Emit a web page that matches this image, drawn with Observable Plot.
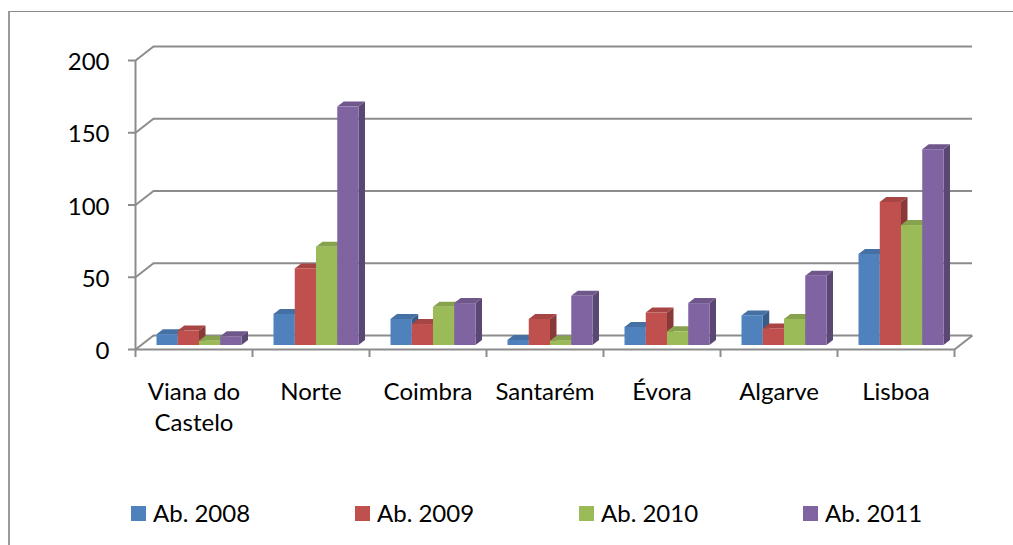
<!DOCTYPE html>
<html>
<head>
<meta charset="utf-8">
<script src="https://cdn.jsdelivr.net/npm/d3@7"></script>
<script src="https://cdn.jsdelivr.net/npm/@observablehq/plot@0.6"></script>
<style>
  html, body { margin: 0; padding: 0; background: #fff; overflow: hidden; }
  #wrap { position: relative; width: 1013px; height: 545px; font-family: Lato, "Open Sans", sans-serif; }
  #frame { position: absolute; left: 8px; top: 11px; width: 1020px; height: 560px;
           border-left: 2px solid #9a9a9a; border-top: 1.5px solid #8a8a8a; pointer-events: none; }
  #legend { position: absolute; left: 131px; top: 499px; display: flex; }
  .item { width: 224px; display: flex; align-items: center; height: 28px; }
  .sw { width: 15px; height: 15px; margin-right: 7px; flex: none; }
  .lab { font-size: 24px; color: #000; line-height: 28px; }
</style>
</head>
<body>
<div id="wrap"></div>
<script>
// ---- data ----
const categories = ["Viana do Castelo", "Norte", "Coimbra", "Santarém", "Évora", "Algarve", "Lisboa"];
const seriesNames = ["Ab. 2008", "Ab. 2009", "Ab. 2010", "Ab. 2011"];
const ab2008 = [7.5, 21.5, 18, 3.5, 12.5, 20.5, 63];
const ab2009 = [10, 53, 14.5, 18, 22.5, 11.5, 99];
const ab2010 = [3, 68, 26.5, 3, 9.5, 18, 83];
const ab2011 = [6, 165, 29, 34, 29, 48, 135.5];
const yTicks = [0, 50, 100, 150, 200];
const colors = ["#4F81BD", "#C0504D", "#9BBB59", "#8064A2"];

// ---- layout ----
const W = 1013, H = 480;
const mL = 135, mR = 59, mT = 60, yZeroPx = 349;
const pxX = (W - mL - mR) / categories.length;   // px per category
const pxY = (yZeroPx - mT) / 200;                 // px per unit
const depthX = 18, depthY = 14;                   // back wall offset, px
const dxU = depthX / pxX, dyU = depthY / pxY;     // in data units
const barW = 21.25 / pxX;                         // bar width in category units
const groupStart = (1 - 4 * barW) / 2;
const sideX = 6.5, sideY = 5;                     // bar depth, px

const allSeries = [ab2008, ab2009, ab2010, ab2011];
const bars = [];
categories.forEach((c, i) => {
  allSeries.forEach((arr, j) => {
    const x1 = i + groupStart + j * barW;
    bars.push({category: c, series: seriesNames[j], value: arr[i], x1, x2: x1 + barW});
  });
});

const gridColor = "#8c8c8c";

const chart = Plot.plot({
  width: W, height: H,
  marginLeft: mL, marginRight: mR, marginTop: mT, marginBottom: H - yZeroPx,
  style: {fontFamily: "Lato, 'Open Sans', sans-serif", fontSize: "24px", background: "transparent", color: "#000"},
  x: {type: "linear", domain: [0, categories.length], axis: null},
  y: {domain: [0, 200], axis: null},
  color: {domain: seriesNames, range: colors},
  marks: [
    // back wall gridlines
    Plot.ruleY(yTicks, {x1: 0, x2: categories.length, dx: depthX, dy: -depthY, stroke: gridColor, strokeWidth: 2.2}),
    // left-wall connectors
    Plot.link(yTicks, {x1: 0, y1: d => d, x2: dxU, y2: d => d + dyU, stroke: gridColor, strokeWidth: 2}),
    // floor right edge
    Plot.link([0], {x1: categories.length, y1: 0, x2: categories.length + dxU, y2: dyU, stroke: gridColor, strokeWidth: 2}),
    // bars (front faces; 3D faces added afterwards)
    Plot.rect(bars, {x1: "x1", x2: "x2", y1: 0, y2: "value", fill: "series", dx: 5.5, dy: -4, className: "bars3d"}),
    // front axes
    Plot.ruleY([0], {x1: 0, x2: categories.length, stroke: gridColor, strokeWidth: 2}),
    Plot.ruleX([0], {y1: 0, y2: 200, stroke: gridColor, strokeWidth: 2}),
    // y ticks
    Plot.ruleY(yTicks, {x1: -7 / pxX, x2: 0, stroke: gridColor, strokeWidth: 2}),
    Plot.text(yTicks, {x: 0, y: d => d, text: d => String(d), textAnchor: "end", dx: -26, dy: 2, fontSize: 24, fill: "#000"}),
    // x ticks
    Plot.ruleX(d3.range(categories.length + 1), {y1: 0, y2: -8 / pxY, stroke: gridColor, strokeWidth: 2}),
    // category labels
    Plot.text(categories, {x: (d, i) => i + 0.5, y: 0, text: d => d, lineWidth: 5.3, lineHeight: 1.3,
      lineAnchor: "top", dy: 28, fontSize: 24, fill: "#000", textAnchor: "middle"})
  ]
});

// add 3D top and side faces to each bar
d3.select(chart).selectAll("g.bars3d rect").each(function() {
  const r = d3.select(this);
  const x = +r.attr("x"), y = +r.attr("y"), w = +r.attr("width"), h = +r.attr("height");
  const fill = r.attr("fill");
  const c = d3.color(fill);
  const parent = this.parentNode;
  const side = document.createElementNS("http://www.w3.org/2000/svg", "polygon");
  side.setAttribute("points", [[x + w, y], [x + w + sideX, y - sideY], [x + w + sideX, y + h - sideY], [x + w, y + h]].map(p => p.join(",")).join(" "));
  side.setAttribute("fill", c.darker(0.95).formatHex());
  const top = document.createElementNS("http://www.w3.org/2000/svg", "polygon");
  top.setAttribute("points", [[x, y], [x + sideX, y - sideY], [x + w + sideX, y - sideY], [x + w, y]].map(p => p.join(",")).join(" "));
  top.setAttribute("fill", c.darker(0.4).formatHex());
  parent.insertBefore(side, this);
  parent.insertBefore(top, this);
});

const wrap = document.getElementById("wrap");
wrap.appendChild(chart);

const frame = document.createElement("div");
frame.id = "frame";
wrap.appendChild(frame);

const legend = document.createElement("div");
legend.id = "legend";
seriesNames.forEach((s, j) => {
  const it = document.createElement("div");
  it.className = "item";
  const sw = document.createElement("div");
  sw.className = "sw";
  sw.style.background = colors[j];
  const lab = document.createElement("span");
  lab.className = "lab";
  lab.textContent = s;
  it.appendChild(sw); it.appendChild(lab);
  legend.appendChild(it);
});
wrap.appendChild(legend);
</script>
</body>
</html>
